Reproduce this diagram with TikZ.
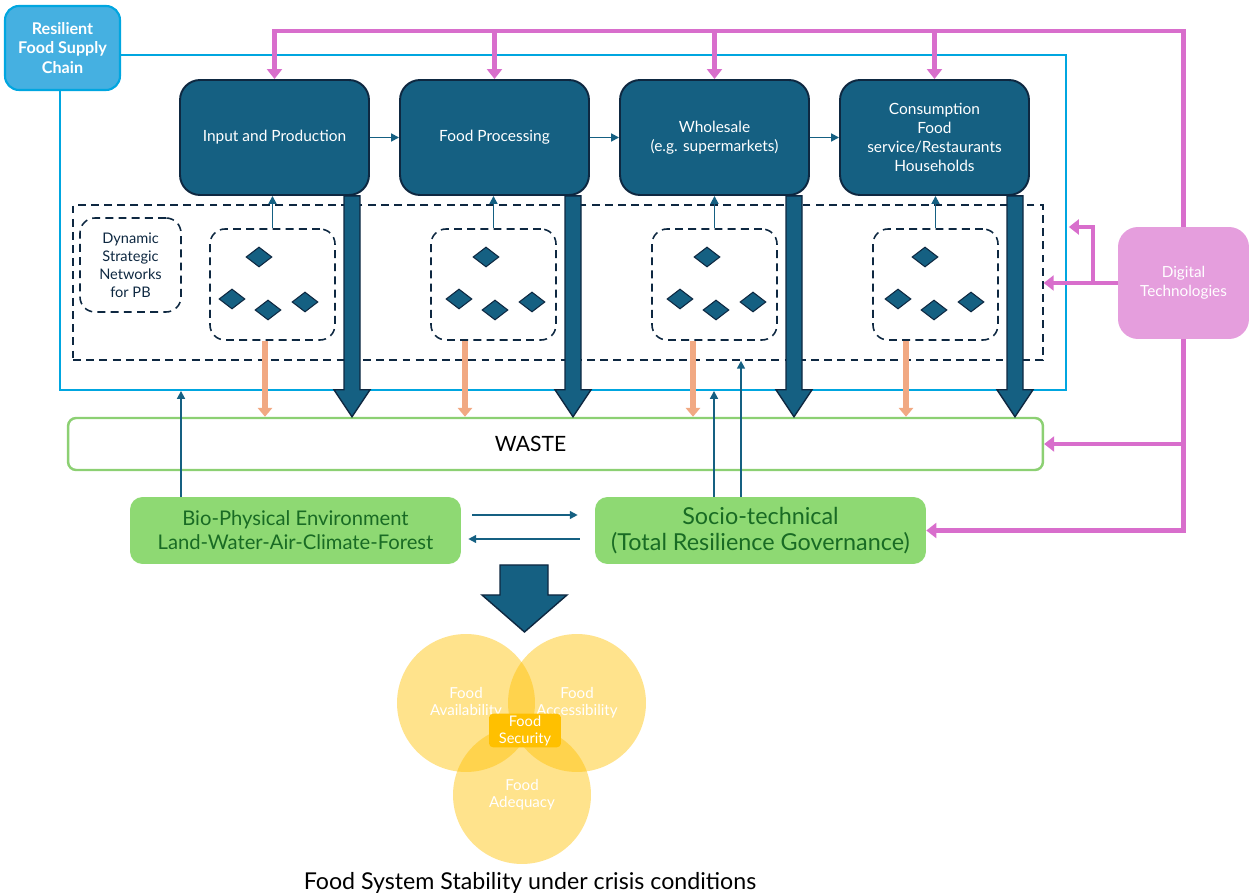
\documentclass[tikz,border=0pt]{standalone}
\usepackage{fontspec}
\setmainfont{Lato}
\usetikzlibrary{arrows.meta,shapes.geometric,calc,positioning}

\definecolor{stageblue}{RGB}{21,96,130}
\definecolor{navy}{RGB}{14,40,65}
\definecolor{skyline}{RGB}{0,166,224}
\definecolor{skyfill}{RGB}{69,176,225}
\definecolor{salmon}{RGB}{241,169,131}
\definecolor{leaf}{RGB}{142,217,115}
\definecolor{leafline}{RGB}{140,208,115}
\definecolor{leaftext}{RGB}{25,107,36}
\definecolor{orchid}{RGB}{216,110,204}
\definecolor{orchidfill}{RGB}{229,158,221}
\definecolor{amber}{RGB}{255,192,0}

\begin{document}
\begin{tikzpicture}[x=0.02cm, y=-0.02cm,
    stage/.style={draw=navy, line width=1.1pt, fill=stageblue, rounded corners=0.4cm,
        minimum width=3.78cm, minimum height=2.3cm, text=white, align=center,
        font=\fontsize{8.8}{10.8}\selectfont},
    cluster/.style={draw=navy, line width=0.9pt, dash pattern=on 4.5pt off 3pt,
        rounded corners=0.3cm, minimum width=2.5cm, minimum height=2.22cm},
    gem/.style={diamond, draw=navy, line width=0.6pt, fill=stageblue, inner sep=0pt,
        minimum width=0.52cm, minimum height=0.4cm},
    envbox/.style={fill=leaf, rounded corners=0.25cm, minimum width=6.62cm,
        minimum height=1.34cm, text=leaftext, align=center},
    pillar/.style={circle, fill=amber, fill opacity=0.45, text opacity=1, text=white,
        minimum size=2.76cm, align=center, font=\fontsize{8.6}{9.6}\selectfont},
    link/.style={draw=stageblue, line width=1pt, -{Triangle[width=4.5pt,length=4.5pt]}},
    spill/.style={draw=salmon, line width=3.4pt, -{Triangle[width=8pt,length=5pt]}},
    digi/.style={draw=orchid, line width=2.3pt, -{Triangle[width=8.5pt,length=5.7pt]}},
    flow/.style={fill=stageblue, draw=navy, line width=0.8pt, line join=miter}
]
\useasboundingbox (0,0) rectangle (1249,895);

% Supply chain frame
\node[draw=skyline, line width=1.1pt, minimum width=20.12cm, minimum height=6.7cm] (frame) at (563,222.5) {};
\node[draw=skyline, line width=1.2pt, fill=skyfill, rounded corners=0.28cm, minimum width=2.3cm,
    minimum height=1.68cm, text=white, align=center, font=\bfseries\fontsize{9.2}{11.3}\selectfont]
    (chain) at (62.5,48) {Resilient\\Food Supply\\Chain};

% Networks for planetary boundaries
\node[draw=navy, line width=0.9pt, dash pattern=on 4.5pt off 3pt, minimum width=19.4cm, minimum height=3.1cm] (pb) at (558,282.5) {};
\node[cluster, minimum width=2.02cm, minimum height=1.88cm, text=navy, align=center,
    font=\fontsize{8.3}{10.2}\selectfont] (dsn) at (130.5,265) {Dynamic\\Strategic\\Networks\\for PB};
\foreach \i/\x in {1/272.5, 2/493.5, 3/714.5, 4/935.5} {
        \node[cluster] (c\i) at (\x,284.5) {};
    }
\foreach \b in {259, 486, 707, 925} {
        \node[gem] at (\b,257) {};
        \node[gem] at (\b-27,299) {};
        \node[gem] at (\b+9,310) {};
        \node[gem] at (\b+46,302) {};
    }

% Chain stages
\node[stage] (s1) at (274.5,137.5) {Input and Production};
\node[stage] (s2) at (494.5,137.5) {Food Processing};
\node[stage] (s3) at (714.5,137.5) {Wholesale\\(e.g. supermarkets)};
\node[stage] (s4) at (934.5,137.5) {Consumption\\Food\\service/Restaurants\\Households};
\draw[link] (s1) -- (s2);
\draw[link] (s2) -- (s3);
\draw[link] (s3) -- (s4);
\foreach \i in {1,2,3,4} {
        \draw[link] (c\i.north) -- (c\i.north |- s\i.south);
    }

% Waste
\node[draw=leafline, line width=1.4pt, rounded corners=0.16cm, minimum width=19.5cm, minimum height=1.04cm,
    label={[xshift=-0.5cm, font=\fontsize{12}{13}\selectfont]center:WASTE}] (waste) at (555.5,444) {};
\foreach \i/\x in {1/265, 2/465, 3/693, 4/906} {
        \draw[spill] (\x,0 |- c\i.south) -- (\x,0 |- waste.north);
    }
\foreach \s/\x in {s1/352, s2/573, s3/794, s4/1015} {
        \filldraw[flow] (\x-8,0 |- \s.south) -- (\x+8,0 |- \s.south)
            -- ($(\x,0 |- waste.north)+(8,-27)$) -- ($(\x,0 |- waste.north)+(18,-27)$)
            -- (\x,0 |- waste.north)
            -- ($(\x,0 |- waste.north)+(-18,-27)$) -- ($(\x,0 |- waste.north)+(-8,-27)$) -- cycle;
    }

% Environment and governance
\node[envbox, font=\fontsize{11.5}{13.6}\selectfont] (bio) at (295.5,530.5) {Bio-Physical Environment\\Land-Water-Air-Climate-Forest};
\node[envbox, font=\fontsize{13.3}{14.9}\selectfont] (socio) at (760.5,530.5) {Socio-technical\\(Total Resilience Governance)};
\draw[link] ([shift={(11,-15.5)}]bio.east) -- ([shift={(-17,-15.5)}]socio.west);
\draw[link] ([shift={(-15,8.5)}]socio.west) -- ([shift={(7,8.5)}]bio.east);
\draw[link] (181,0 |- bio.north) -- (181,0 |- frame.south);
\draw[link] (714,0 |- socio.north) -- (714,0 |- frame.south);
\draw[link] (741,0 |- socio.north) -- (741,0 |- pb.south);

% Digital technologies
\node[fill=orchidfill, rounded corners=0.4cm, minimum width=2.62cm, minimum height=2.24cm, text=white,
    align=center, font=\fontsize{8.7}{10.8}\selectfont] (dt) at (1183.5,283) {Digital\\Technologies};
\coordinate (top) at (0,31);
\draw[digi] (dt.north) |- (s1.north |- top) -- (s1.north);
\foreach \s in {s2, s3, s4} {
        \draw[digi] (\s.north |- top) -- (\s.north);
    }
\draw[digi] (dt.west) -- (dt.west -| pb.east);
\draw[digi] (1093,0 |- dt.west) |- ([xshift=0.04cm]frame.east |- 0,227);
\draw[digi] (dt.south) |- (socio.east);
\draw[digi] (dt.south |- waste.east) -- (waste.east);

% Food security outcome
\filldraw[flow] (500,565) -- (548,565) -- (548,595) -- (567,595) -- (524.5,632) -- (482,595) -- (500,595) -- cycle;
\node[pillar] (av) at (466,703) {Food\\Availability};
\node[pillar] (ac) at (577,703) {Food\\Accessibility};
\node[pillar] (ad) at (522,795) {Food\\Adequacy};
\node[fill=amber, rounded corners=0.08cm, minimum width=1.44cm, minimum height=0.58cm, inner sep=1pt,
    text=white, align=center, font=\fontsize{8.3}{9.6}\selectfont] (fs) at (525,730.5) {Food\\Security};
\node[font=\fontsize{13.2}{15}\selectfont] (title) at (530,883) {Food System Stability under crisis conditions};
\end{tikzpicture}
\end{document}
